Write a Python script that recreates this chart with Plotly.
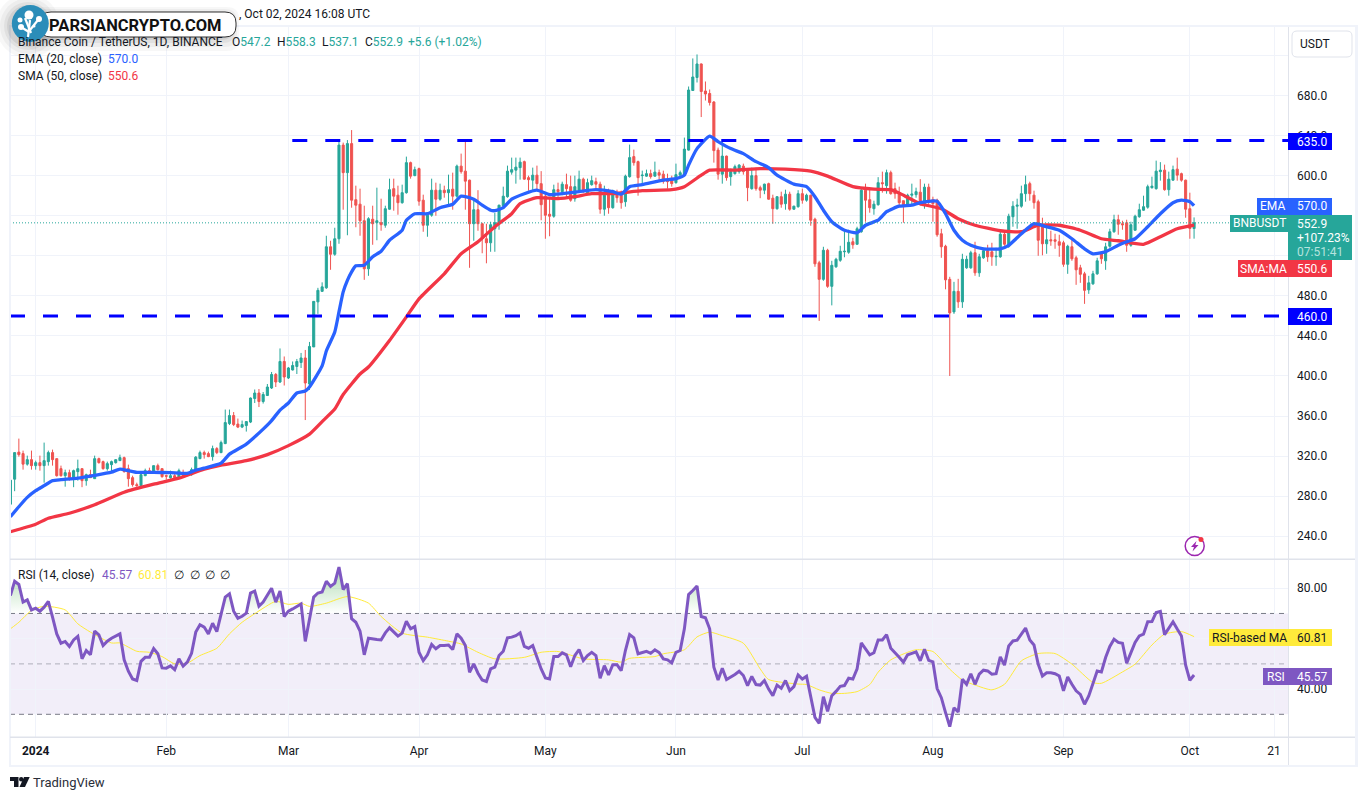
import numpy as np
import pandas as pd
import plotly.graph_objs as go

# daily candles, first one is 2023-12-26
opens = [
    272, 297, 324, 322.5, 312, 316.5, 310.5, 313.5, 310.5, 314.5,
    323.5, 317.5, 307.5, 300.5, 303.5, 298.5, 304.5, 307.5, 295.5, 301.5,
    297.5, 317.5, 314.5, 307.5, 311.5, 313.5, 315.5, 318.5, 307.5, 298.5,
    291.5, 290.5, 300.5, 305.5, 303.5, 310.5, 307.5, 300.5, 298.5, 300.5,
    298.5, 303.5, 300.5, 301.5, 305.5, 317.5, 323.5, 322.5, 319.5, 327.5,
    323.5, 332.5, 352.5, 360.5, 352, 349, 350.5, 354, 377.5, 383,
    374.5, 380.5, 388, 401.5, 394, 414.5, 398, 406, 409.5, 413.5,
    418, 392, 429, 474, 484.5, 488, 529, 521.5, 537, 630.5,
    603, 632, 576, 571.5, 555, 507, 556.5, 553, 553, 550.5,
    566.5, 587, 580.5, 573, 583, 613, 600, 607, 575.5, 550.5,
    560.5, 585.5, 576.5, 585.5, 583, 586.5, 579.5, 609.5, 604.5, 595.5,
    552, 566, 552, 537, 533, 547, 552, 570, 579, 603.5,
    605.5, 608, 614, 598, 595.5, 600.5, 592, 579.5, 561.5, 559.5,
    586, 584, 591, 589, 577, 585.5, 596.5, 583, 591, 594,
    591.5, 566.5, 583, 568, 583, 580.5, 574, 599, 619, 614,
    600, 599.5, 602, 599.5, 603, 601.5, 596, 596, 593, 600.5,
    600.5, 625.5, 685, 698, 711.5, 684.5, 682, 673.5, 625.5, 601.5,
    619.5, 599, 602, 604, 609.5, 605.5, 587, 600, 588, 585.5,
    592, 577.5, 567, 579, 572, 581.5, 566.5, 569, 582, 575.5,
    580.5, 556.5, 513, 496.5, 525.5, 489.5, 509, 515.5, 524, 523.5,
    534, 531.5, 544, 585.5, 576, 567, 571, 593, 590, 603,
    587, 583, 575, 569.5, 580.5, 581, 583.5, 572, 588.5, 576,
    575.5, 542, 529.5, 496.5, 464, 484.5, 474, 508, 508, 523,
    503, 518, 525, 524, 519, 519, 541.5, 529.5, 559, 569.5,
    569.5, 582, 592, 580.5, 574, 550.5, 532, 536, 536, 534,
    533, 511.5, 529, 518, 508, 502, 486, 492, 502, 522,
    515, 529.5, 544, 556, 552, 553, 530.5, 545.5, 559, 565.5,
    568.5, 588, 587, 604, 605.5, 586, 595.5, 606.5, 602, 595.5,
    567, 547.2,
]
highs = [
    297, 324, 337.5, 325.5, 320.5, 325.5, 315.5, 320.5, 333.5, 325.5,
    326.5, 317.5, 310.5, 306.5, 306.5, 306.5, 316.5, 307.5, 302.5, 306.5,
    320.5, 318.5, 315.5, 314.5, 315.5, 316.5, 321.5, 319.5, 311.5, 300.5,
    293.5, 302.5, 307.5, 308.5, 310.5, 312.5, 307.5, 301.5, 305.5, 303.5,
    307.5, 306.5, 303, 308.5, 320, 325.5, 325.5, 324.5, 330.5, 329,
    335.5, 366.5, 366.5, 364, 357.5, 355.5, 355, 378.5, 386.5, 387,
    384, 392, 404, 403, 427.5, 419.5, 409, 414.5, 417, 423,
    426, 434, 474.5, 488, 493.5, 540, 535, 548, 634, 633,
    635.5, 645.5, 590, 587, 570, 558.5, 570, 588, 577, 570,
    597, 597, 590, 591, 619, 614, 609, 608, 581, 563,
    597, 593, 592, 590, 601, 603, 611, 622, 634.5, 596,
    576, 585.5, 553, 552, 554, 563, 571, 589, 610, 618,
    618, 618, 615, 600, 608, 610, 604.5, 581, 577, 591,
    593, 594, 602, 600, 600, 605, 598, 597, 600, 598,
    594, 590, 587, 586, 586, 585, 601, 631, 626, 615,
    605, 606, 606, 614, 606, 605, 602, 600, 612, 605,
    638, 689, 717, 721, 712, 694, 686, 674.5, 628, 636,
    620, 607, 611, 611.5, 612, 607, 608, 608, 590, 592,
    593, 581, 579.5, 584, 586, 584, 570, 585.5, 587, 582,
    581, 558, 515, 529, 527, 515, 518, 530, 544.5, 546,
    538, 549, 588, 592, 586, 575, 598.5, 604, 606, 605,
    593, 589, 575, 582, 592, 588, 596.5, 592, 592, 579,
    577, 547, 531, 499, 494, 497, 522, 520, 525, 534,
    522, 528, 531, 533, 528, 545, 545, 562, 574.5, 577,
    590, 600, 594, 585, 576, 558, 550, 545, 542, 541,
    535, 531, 538, 520, 511, 504, 500, 505, 518, 524,
    533, 547, 561, 561, 555, 556, 554, 561, 572, 580,
    591, 599, 615, 613.5, 611, 604, 610, 618, 603, 596,
    583, 558.3,
]
lows = [
    266, 285, 319.5, 306.5, 310.5, 306.5, 306.5, 305.5, 293.5, 310.5,
    310.5, 299.5, 299.5, 289.5, 295.5, 289, 295.5, 289, 290.5, 298.5,
    297.5, 312.5, 306.5, 305.5, 304.5, 312.5, 315.5, 303.5, 289.5, 289.5,
    289.5, 289, 300, 302.5, 303, 305.5, 298.5, 296.5, 297.5, 297.5,
    297.5, 299.5, 300, 300.5, 304.5, 317, 317.5, 319, 315.5, 322,
    323, 332, 351, 350, 348, 348, 344.5, 353, 373, 369,
    372.5, 380, 387, 389, 393, 390.5, 397, 405.5, 402, 408,
    356, 386, 429, 462, 484, 487, 506, 520, 532, 566,
    540.5, 568, 548.5, 540, 496, 500, 531, 535.5, 545, 548,
    566, 565, 561, 572, 582, 597, 599.5, 570, 544, 539,
    559, 560, 575, 578, 571, 566, 578, 602, 566, 508,
    535, 545, 522.5, 512.5, 524, 524, 546, 569, 578, 601,
    592, 596, 596, 585, 585, 585, 555.5, 537, 539.5, 558,
    578, 580.5, 577, 574, 574, 584, 583, 582, 590, 585,
    562, 560, 562, 567, 573, 567, 569, 598, 610, 580,
    591, 599, 597, 599, 594, 592, 587, 589, 592, 600,
    600, 625, 685, 693, 658.5, 675, 670, 613, 596, 592,
    595, 590, 601, 602, 601, 574.5, 586, 585, 577.5, 581.5,
    576, 552, 566, 568, 566, 565, 566, 568, 572, 574,
    550, 509, 455, 495, 488, 470.5, 508, 514, 518.5, 522,
    527, 531, 543, 554, 563, 561, 570, 583, 582, 581,
    577, 570, 553, 569, 570, 578, 570, 567, 571, 554,
    539, 518, 486.5, 400, 462, 468, 468, 507, 507, 500,
    499, 517, 514, 510, 510, 518, 530, 528, 549, 547,
    568, 574, 575, 567, 520, 520.5, 522, 530, 527, 519,
    509, 502, 515, 491, 493, 472, 482, 491, 501, 512,
    506, 528, 543, 541, 546, 524, 529, 545, 558, 565,
    567, 587, 586, 595, 585, 580, 595, 595, 594, 558,
    537, 537.1,
]
closes = [
    296, 323.5, 321.5, 312, 316.5, 310.5, 313.5, 310.5, 315.5, 323.5,
    316.5, 300.5, 300.5, 303.5, 298.5, 305.5, 307.5, 295.5, 301.5, 298.5,
    317.5, 313.5, 307.5, 312.5, 314.5, 316.5, 318.5, 304.5, 297.5, 291.5,
    290.5, 301.5, 305.5, 303, 310.5, 306.5, 299.5, 300, 300.5, 298.5,
    305.5, 300.5, 302.5, 306.5, 319, 323.5, 321.5, 319.5, 327.5, 323.5,
    333.5, 353.5, 360.5, 351.5, 349, 351.5, 354.5, 378, 383, 374.5,
    381.5, 389, 401.5, 394, 414.5, 399, 408, 410.5, 414.5, 418,
    393, 429.5, 474.5, 485.5, 489, 529, 521.5, 537, 630.5, 603,
    632, 575.5, 570.5, 555, 507, 557, 552, 555, 551, 567,
    586, 579.5, 573, 583, 613, 599.5, 606, 574.5, 550.5, 560.5,
    585.5, 576.5, 585.5, 583, 586, 579.5, 609.5, 604, 594.5, 552,
    566, 552, 537, 533, 551, 553, 570.5, 579.5, 604.5, 606,
    608.5, 613.5, 596.5, 596, 600.5, 592, 571, 560.5, 559.5, 586,
    584, 591.5, 587, 575.5, 589, 596.5, 584.5, 593, 595, 591.5,
    566.5, 580.5, 568, 583, 578, 573, 599.5, 618, 613, 598,
    600.5, 602, 599, 603.5, 600.5, 594.5, 594, 592, 601, 603,
    626.5, 685.5, 698.5, 711.5, 684, 681.5, 673, 625, 601.5, 619.5,
    598, 604, 609, 610.5, 604, 588, 600, 587, 585.5, 591.5,
    576.5, 567, 579, 571.5, 581.5, 566.5, 569.5, 582, 575.5, 580.5,
    555.5, 512, 496.5, 525.5, 489.5, 510.5, 516.5, 524.5, 524.5, 533.5,
    531, 547, 585.5, 575.5, 568, 571.5, 593, 592, 603, 582,
    582, 573, 569.5, 580.5, 581.5, 584, 572, 588.5, 574, 572,
    541, 529, 496, 463, 484.5, 474, 516.5, 516.5, 523, 503,
    519, 525, 519, 519, 519.5, 541.5, 531.5, 559.5, 569.5, 570.5,
    582, 591, 582, 573, 535.5, 532, 536, 535, 534.5, 530.5,
    511.5, 529.5, 517, 506, 501.5, 485.5, 493, 502, 515, 517,
    529, 544, 556, 551.5, 551, 530.5, 551, 559.5, 566, 569,
    589, 589.5, 604.5, 605.5, 586, 596.5, 606, 600.5, 595.5, 566.5,
    547.3, 552.9,
]

rsi_values = [
    77.1, 82.8, 81.5, 74.5, 75.4, 71.4, 72.1, 70.9, 72.5, 74.8,
    68.5, 61.9, 58.2, 58.9, 56.9, 59.5, 60.9, 52, 55.3, 53.6,
    63, 61.5, 57.3, 59, 60.2, 61.2, 61.9, 51.6, 47.1, 44,
    43.4, 51, 52.6, 52.6, 56.1, 54, 48.4, 48.3, 49.2, 47.7,
    52, 49.1, 50.7, 54.2, 62.6, 65.5, 64.6, 61.9, 66.1, 62.8,
    69.2, 76.5, 77.8, 70.9, 68.1, 68.9, 70.1, 78.1, 78.9, 72.9,
    74.5, 77.1, 80, 74.5, 78.9, 68.8, 70.9, 71.8, 72.9, 73.8,
    58.9, 68.5, 76.5, 78.1, 78.5, 82.8, 80.7, 82, 88.4, 79.5,
    81.8, 67.9, 66.5, 63, 53.6, 60.2, 59.8, 59.7, 59.5, 62.3,
    64.3, 62.8, 61, 62.2, 66.9, 63.9, 64.8, 54.6, 51.3, 53.6,
    57.7, 56, 57.3, 57.3, 57.5, 55.7, 61.9, 60.2, 57.3, 46.7,
    50, 46.3, 43.6, 43, 48, 48.7, 53.3, 55, 60.3, 60.6,
    61.2, 62.3, 56.9, 56.2, 57.3, 52.6, 48, 44.4, 44, 52.9,
    52.9, 54.4, 53.6, 48.9, 53.3, 55.7, 51.3, 53.3, 54.6, 53.3,
    44.3, 49.3, 45.6, 49.7, 49.7, 47.3, 55.3, 61.6, 60.3, 54,
    54.4, 55, 54.2, 55.6, 54.5, 52, 51.6, 50.4, 54.6, 55.3,
    63.9, 77.5, 79.1, 80.9, 68.8, 68.3, 63.9, 48.7, 43.6, 48.3,
    43.8, 44.7, 45.8, 47.1, 45.4, 41.4, 45, 41.8, 41.6, 43.4,
    40, 37.4, 41.6, 40.3, 43.4, 39.4, 41, 45.6, 44, 45.1,
    36.7, 28.8, 26.4, 37, 31.2, 37.4, 39.1, 41.1, 41.4, 44.3,
    44, 48, 58.3, 56, 53.6, 54.4, 59.5, 59.5, 61.6, 56.2,
    54.2, 52.6, 50.7, 53.6, 54.2, 54.8, 51.2, 55.8, 51.4, 50.8,
    40.2, 36.6, 30.7, 25.1, 32.6, 30.9, 43.9, 41.9, 46.1, 41.9,
    45.9, 47.5, 47.2, 45.9, 46.1, 52.8, 49.5, 57.1, 59.1, 59.4,
    61.8, 64.2, 59.5, 57.5, 49.9, 45.2, 46.5, 46.5, 46.1, 45.2,
    39.3, 44.8, 41.9, 39.3, 37.9, 34, 37.3, 41.9, 47.2, 46.8,
    52.5, 56.9, 59.8, 58.5, 58.2, 50.3, 54.5, 58.5, 61.1, 61.8,
    66.7, 66.8, 70.4, 70.8, 61.6, 64.2, 66.7, 63.8, 61.1, 49.5,
    43.5, 45.57,
]

# indicator lines read at these days (days counted from 2024-01-01)
ema_days = [
    -6, -4, -2, 0, 2, 4, 6, 10, 14, 18, 20, 22, 24, 28, 32, 36, 38, 40, 44, 46,
    50, 54, 56, 58, 60, 62, 64, 65, 68, 69, 71, 72, 73, 74, 75, 76, 78, 80, 82, 84, 87,
    88, 90, 93, 96, 99, 101, 104, 106, 108, 109, 111, 113, 116, 119, 122, 125, 129, 133, 137, 139,
    141, 144, 149, 152, 154, 155, 157, 160, 162, 165, 168, 171, 174, 176, 180, 183, 185, 187, 189, 192,
    195, 197, 200, 202, 205, 208, 210, 214, 216, 218, 220, 222, 225, 229, 231, 234, 237, 240, 243, 246,
    249, 251, 254, 257, 259, 261, 264, 267, 270, 272, 274, 275,
]
ema_values = [
    259.5, 269.5, 278.8, 285.5, 290.5, 295.5, 296.5, 298, 300.8, 304, 307, 305.5, 303.8, 303.8, 303.5, 302.8, 306, 308, 313, 322,
    332, 347, 355.5, 366, 373, 383, 385, 389, 410, 425, 444, 464, 484, 495.5, 504, 510, 510.5, 519, 524.5, 535.5, 545.5,
    555.5, 562, 562, 568, 571.5, 579.5, 576.5, 570.5, 565.5, 565, 568, 576.5, 582, 585.5, 581, 582, 584, 586, 584, 581.5,
    589, 591, 595.5, 597, 600.5, 610.5, 627, 639.5, 634, 627, 622, 614, 608, 600.5, 591.5, 589, 579, 565.5, 554, 545.5,
    543, 550.5, 555.5, 564, 569.5, 570.5, 573, 574.5, 562, 545.5, 535.5, 530.5, 527, 527, 530.5, 542, 552, 549, 545.5, 537,
    527, 522, 524, 530.5, 534, 537, 549, 562, 573, 575.5, 574, 570,
]
sma_days = [
    -6, 0, 3, 8, 14, 21, 28, 34, 40, 44, 50, 55, 60, 65, 68, 71, 73, 77, 79, 84,
    88, 91, 97, 101, 105, 109, 113, 115, 119, 124, 128, 132, 137, 144, 151, 154, 158, 160, 166, 172,
    178, 184, 188, 194, 199, 203, 206, 210, 215, 219, 223, 229, 234, 238, 243, 248, 253, 257, 263, 267,
    271, 275,
]
sma_values = [
    244.5, 252, 258, 263, 271.5, 284, 292, 298, 307, 311, 315.5, 321.5, 330.5, 342, 354.5, 367, 381.5, 402, 409, 435.5,
    459, 477, 502, 522, 534, 549, 562, 572, 578, 577, 579, 582, 582, 585, 586, 589, 600.5, 605.5, 605.5, 607,
    606.5, 604.5, 599.5, 589, 586.5, 586, 580.5, 572, 567, 557, 550.5, 545, 544, 550.5, 550.5, 545.5, 537, 535, 531.5, 539,
    547, 550.6,
]
rsi_ma_days = [
    -6, -4, -1, 2, 7, 10, 13, 18, 20, 24, 27, 30, 33, 36, 39, 43, 46, 49, 52, 57,
    60, 63, 65, 69, 74, 79, 82, 87, 93, 98, 101, 105, 109, 116, 120, 124, 130, 136, 139, 141,
    147, 149, 154, 157, 160, 163, 168, 172, 174, 181, 183, 186, 189, 192, 195, 198, 200, 203, 207, 209,
    213, 217, 220, 223, 227, 230, 234, 238, 242, 246, 251, 253, 258, 261, 265, 268, 272, 275,
]
rsi_ma_values = [
    63.9, 66.5, 71.2, 72.9, 71.4, 65.9, 62.6, 58.3, 58.3, 55, 54.6, 52.9, 50, 50.3, 53.3, 56.2, 61.9, 66.5, 69.9, 74.8,
    73.6, 74.1, 72.8, 74.1, 76.7, 74.1, 68.8, 62.2, 60.6, 59, 57.9, 54.6, 52, 52.6, 54.6, 54.9, 52, 51.6, 50.7, 52.2,
    52.9, 54, 55.6, 60.7, 62.6, 61.2, 58.2, 48, 43.8, 42, 41.8, 39.7, 38.3, 38.3, 39, 41.8, 46.7, 51.6, 54.6, 55.6,
    54.9, 47.9, 43.6, 41.6, 39.7, 41.9, 51.2, 54.1, 54.1, 49.9, 42.6, 42.3, 46.8, 49.9, 57.5, 61.8, 62.8, 60.81,
]

# labels hidden behind the price tags in the reference stay blank, their grid lines remain
price_ticks = [240, 280, 320, 360, 400, 440, 480, 520, 560, 600, 640, 680, 720]
price_labels = ["240.0", "280.0", "320.0", "360.0", "400.0", "440.0", "480.0", "", "", "600.0", "640.0", "680.0", ""]
rsi_ticks = [40, 60, 80]
rsi_labels = ["40.00", "", "80.00"]
month_ticks = ["2024-01-01", "2024-02-01", "2024-03-01", "2024-04-01", "2024-05-01", "2024-06-01",
               "2024-07-01", "2024-08-01", "2024-09-01", "2024-10-01", "2024-10-21"]
month_labels = ["<b>2024</b>", "Feb", "Mar", "Apr", "May", "Jun", "Jul", "Aug", "Sep", "Oct", "21"]

GREEN = "#26a69a"
RED = "#ef5350"
BLUE = "#2962ff"
SMA_RED = "#f23645"
PURPLE = "#7e57c2"
YELLOW = "#ffeb3b"
LEVEL_BLUE = "#0000ff"
GRID = "#f0f3fa"
BORDER = "#e0e3eb"
TEXT = "#131722"
FONT = "Roboto"

W = 1366
H = 800


def X(px):
    return px / W


def Y(py):
    return 1 - py / H


def to_dates(days):
    return [pd.Timestamp("2024-01-01") + pd.Timedelta(days=d) for d in days]


dates = pd.date_range("2023-12-26", periods=len(closes), freq="D")
range_start = "2023-12-25 21:36"
range_end = "2024-10-24 07:12"

fig = go.Figure()

#
# PRICE PANE
#

fig.add_trace(go.Candlestick(
    x=dates, open=opens, high=highs, low=lows, close=closes,
    increasing=dict(line=dict(color=GREEN, width=1), fillcolor=GREEN),
    decreasing=dict(line=dict(color=RED, width=1), fillcolor=RED),
    whiskerwidth=0, xaxis="x", yaxis="y", showlegend=False,
))
fig.add_trace(go.Scatter(x=to_dates(sma_days), y=sma_values, mode="lines",
                         line=dict(color=SMA_RED, width=3.3, shape="spline", smoothing=0.5),
                         xaxis="x", yaxis="y", showlegend=False))
fig.add_trace(go.Scatter(x=to_dates(ema_days), y=ema_values, mode="lines",
                         line=dict(color=BLUE, width=3.3, shape="spline", smoothing=0.5),
                         xaxis="x", yaxis="y", showlegend=False))

#
# RSI PANE
#

rsi_top = np.maximum(rsi_values, 70)
fig.add_trace(go.Scatter(x=dates, y=[70] * len(dates), mode="lines", line=dict(width=0),
                         xaxis="x2", yaxis="y2", showlegend=False))
fig.add_trace(go.Scatter(x=dates, y=rsi_top, mode="lines", line=dict(width=0), fill="tonexty",
                         fillgradient=dict(type="vertical", start=70, stop=92,
                                           colorscale=[[0, "rgba(76,175,80,0)"], [1, "rgba(76,175,80,0.55)"]]),
                         xaxis="x2", yaxis="y2", showlegend=False))
fig.add_trace(go.Scatter(x=to_dates(rsi_ma_days), y=rsi_ma_values, mode="lines",
                         line=dict(color=YELLOW, width=1, shape="spline", smoothing=0.6),
                         xaxis="x2", yaxis="y2", showlegend=False))
fig.add_trace(go.Scatter(x=dates, y=rsi_values, mode="lines",
                         line=dict(color=PURPLE, width=3),
                         xaxis="x2", yaxis="y2", showlegend=False))

#
# SHAPES
#

shapes = []


def paper_rect(x0, y0, x1, y1, fill, line=None, layer="above"):
    shapes.append(dict(type="rect", xref="paper", yref="paper", x0=X(x0), x1=X(x1), y0=Y(y0), y1=Y(y1),
                       fillcolor=fill, line=dict(width=0 if line is None else 1, color=line or fill), layer=layer))


def paper_circle(cx, cy, r, fill, line=None, width=0):
    shapes.append(dict(type="circle", xref="paper", yref="paper", x0=X(cx - r), x1=X(cx + r), y0=Y(cy - r), y1=Y(cy + r),
                       fillcolor=fill, line=dict(width=width, color=line or fill), layer="above"))


def paper_poly(points, fill=None, line=None, width=0):
    path = "M " + " L ".join(f"{X(a):.5f} {Y(b):.5f}" for a, b in points)
    if fill is not None:
        path += " Z"
    shapes.append(dict(type="path", xref="paper", yref="paper", path=path, fillcolor=fill or "rgba(0,0,0,0)",
                       line=dict(width=width, color=line or "rgba(0,0,0,0)"), layer="above"))


def round_rect(x0, y0, x1, y1, r, fill, line=None, width=0):
    p = (f"M {X(x0 + r):.5f} {Y(y0):.5f} L {X(x1 - r):.5f} {Y(y0):.5f} Q {X(x1):.5f} {Y(y0):.5f} {X(x1):.5f} {Y(y0 + r):.5f} "
         f"L {X(x1):.5f} {Y(y1 - r):.5f} Q {X(x1):.5f} {Y(y1):.5f} {X(x1 - r):.5f} {Y(y1):.5f} "
         f"L {X(x0 + r):.5f} {Y(y1):.5f} Q {X(x0):.5f} {Y(y1):.5f} {X(x0):.5f} {Y(y1 - r):.5f} "
         f"L {X(x0):.5f} {Y(y0 + r):.5f} Q {X(x0):.5f} {Y(y0):.5f} {X(x0 + r):.5f} {Y(y0):.5f} Z")
    shapes.append(dict(type="path", xref="paper", yref="paper", path=p, fillcolor=fill,
                       line=dict(width=width, color=line or "rgba(0,0,0,0)"), layer="above"))


# rsi band and its dashed levels
shapes.append(dict(type="rect", xref="x2 domain", yref="y2", x0=0, x1=1, y0=30, y1=70,
                   fillcolor="rgba(126,87,194,0.1)", line=dict(width=0), layer="below"))
for level, color in [(70, "#787b86"), (50, "rgba(120,123,134,0.55)"), (30, "#787b86")]:
    shapes.append(dict(type="line", xref="x2 domain", yref="y2", x0=0, x1=1, y0=level, y1=level,
                       line=dict(color=color, width=1, dash="5px,4px"), layer="below"))

# last price dotted line and the two drawn levels
shapes.append(dict(type="line", xref="x domain", yref="y", x0=0, x1=1, y0=closes[-1], y1=closes[-1],
                   line=dict(color=GREEN, width=1, dash="1px,2px"), layer="above"))
shapes.append(dict(type="line", xref="x", yref="y", x0="2024-03-01 22:00", x1=range_end, y0=635, y1=635,
                   line=dict(color=LEVEL_BLUE, width=3, dash="15px,18px"), layer="above"))
shapes.append(dict(type="line", xref="x", yref="y", x0=range_start, x1=range_end, y0=460, y1=460,
                   line=dict(color=LEVEL_BLUE, width=3, dash="15px,18px"), layer="above"))

# outer frame and pane separators
paper_rect(9, 25, 1358, 27, GRID)
paper_rect(9, 765, 1358, 767, GRID)
paper_rect(9, 25, 11, 767, GRID)
paper_rect(1355, 25, 1358, 767, GRID)
paper_rect(10, 558.5, 1355, 560, BORDER)
paper_rect(10, 736.5, 1355, 738, BORDER)
paper_rect(1288, 27, 1289, 765, BORDER)

# icon near the bottom of the price pane
paper_circle(1194.7, 546, 9.5, "#ffffff", "#9c27b0", 1.5)
paper_poly([(1196.5, 541), (1191, 547), (1194, 547), (1192.5, 551.5), (1198.5, 545), (1195.3, 545)], "#9c27b0")
paper_circle(1201, 539.5, 2.5, SMA_RED)

# usdt button
round_rect(1292, 31, 1352, 57, 5, "#ffffff", BORDER, 1)

# TradingView mark
paper_poly([(10, 777), (18.5, 777), (18.5, 787), (14, 787), (14, 781), (10, 781)], "#131722")
paper_circle(21.2, 779.2, 2.2, "#131722")
paper_poly([(24, 777), (29.7, 777), (25, 787), (19.5, 787)], "#131722")

#
# TEXT
#

notes = []


def label(px, py, text, color=TEXT, size=12, anchor="left"):
    notes.append(dict(xref="paper", yref="paper", x=X(px), y=Y(py), text=text, showarrow=False,
                      xanchor=anchor, yanchor="middle", align=anchor, borderpad=0, borderwidth=0,
                      font=dict(family=FONT, size=size, color=color)))


def tag(x0, y0, x1, y1, text, fill, color="#ffffff", center=None):
    paper_rect(x0, y0, x1, y1, fill)
    label((x0 + x1) / 2 if center is None else center, (y0 + y1) / 2, text, color=color, anchor="center")


# the start of the header is covered by the watermark, only its end can be read
label(370, 14, ", Oct 02, 2024 16:08 UTC", anchor="right")
label(18, 42, "Binance Coin / TetherUS, 1D, BINANCE")

# ohlc readout, letters dark and values green
ohlc_parts = [(232, "O", "547.2"), (277, "H", "558.3"), (322, "L", "537.1"), (365, "C", "552.9")]
for px, letter, value in ohlc_parts:
    label(px, 42, f"{letter}<span style='color:{GREEN}'>{value}</span>")
label(408, 42, "+5.6 (+1.02%)", color=GREEN)

label(18, 59, "EMA (20, close)")
label(108, 59, "570.0", color=BLUE)
label(18, 76, "SMA (50, close)")
label(108, 76, "550.6", color=SMA_RED)

label(18, 575, "RSI (14, close)")
label(102, 575, "45.57", color=PURPLE)
label(138, 575, "60.81", color=YELLOW)
for px in [179, 195, 210, 225]:
    label(px, 575, "∅", anchor="center")

label(33, 782, "TradingView", color="#2a2e39", size=13)
label(1315, 44, "USDT", anchor="center")

tag(1288, 133, 1332, 150, "635.0", LEVEL_BLUE, center=1312)
tag(1288, 308, 1332, 325, "460.0", LEVEL_BLUE, center=1312)
tag(1257, 198, 1288, 215, "EMA", BLUE)
tag(1288, 198, 1332, 215, "570.0", BLUE, center=1312)
tag(1230, 215, 1288, 232, "BNBUSDT", GREEN)
paper_rect(1288, 215, 1352, 260, GREEN)
label(1297, 224, "552.9", color="#ffffff")
label(1297, 238, "+107.23%", color="#ffffff")
label(1297, 252, "07:51:41", color="#b5e3de")
tag(1238, 260, 1288, 277, "SMA:MA", SMA_RED)
tag(1288, 260, 1332, 277, "550.6", SMA_RED, center=1312)
tag(1209, 629, 1289, 646, "RSI-based MA", YELLOW, TEXT)
tag(1289, 629, 1332, 646, "60.81", YELLOW, TEXT, center=1312)
tag(1263, 668, 1289, 685, "RSI", PURPLE)
tag(1289, 668, 1332, 685, "45.57", PURPLE, center=1312)

# watermark pill with a soft shadow
for grow, alpha in [(14, 0.03), (10, 0.04), (6, 0.05), (3, 0.07)]:
    round_rect(40 - grow, 14 - grow / 2, 232 + grow / 2, 37 + grow, 12, f"rgba(0,0,0,{alpha})")
    paper_circle(28, 26, 18 + grow, f"rgba(0,0,0,{alpha})")
round_rect(40, 12, 236, 37, 11, "#ffffff", "#333333", 1)
paper_circle(30.3, 23.5, 18.5, "#2b8db9")
for a, b in [((28, 37), (30, 20)), ((29, 32), (21, 27)), ((30, 30), (38, 20)), ((31, 33), (25, 18))]:
    paper_poly([a, b], None, "#ffffff", 2.2)
for cx, cy, r in [(29, 15, 4.5), (20, 20, 2.5), (39, 19, 3), (21, 27, 3), (34, 26, 1.5)]:
    paper_circle(cx, cy, r, "#ffffff")

label(49, 25, "<b>PARSIANCRYPTO.COM</b>", color="#111111", size=16.5)

#
# LAYOUT
#

axis_common = dict(
    type="date", range=[range_start, range_end], tickmode="array", tickvals=month_ticks,
    showgrid=True, gridcolor=GRID, gridwidth=1, zeroline=False, showline=False, ticks="",
    rangeslider=dict(visible=False),
)

fig.update_layout(
    width=W, height=H, autosize=False,
    margin=dict(l=0, r=0, t=0, b=0, pad=0),
    paper_bgcolor="#ffffff", plot_bgcolor="#ffffff",
    showlegend=False, dragmode=False, hovermode=False,
    font=dict(family=FONT, size=12, color=TEXT),
    xaxis=dict(domain=[X(10), X(1288)], anchor="y", showticklabels=False, **axis_common),
    xaxis2=dict(domain=[X(10), X(1288)], anchor="y2", matches="x", showticklabels=True,
                ticktext=month_labels, tickfont=dict(family=FONT, size=12, color=TEXT),
                ticklabelstandoff=5, **axis_common),
    yaxis=dict(domain=[Y(559), Y(27)], anchor="x", side="right", range=[217.3, 748.4],
               tickmode="array", tickvals=price_ticks, ticktext=price_labels, showgrid=True, gridcolor=GRID,
               zeroline=False, showline=False, ticks="", ticklabelstandoff=8,
               tickfont=dict(family=FONT, size=12, color=TEXT)),
    yaxis2=dict(domain=[Y(737), Y(559)], anchor="x2", side="right", range=[21, 91.6],
                tickmode="array", tickvals=rsi_ticks, ticktext=rsi_labels, showgrid=True, gridcolor=GRID,
                zeroline=False, showline=False, ticks="", ticklabelstandoff=8,
                tickfont=dict(family=FONT, size=12, color=TEXT)),
    shapes=shapes,
    annotations=notes,
)

fig.write_html("out.html", config={"displayModeBar": False},
               post_script="document.body.style.margin='0';")
